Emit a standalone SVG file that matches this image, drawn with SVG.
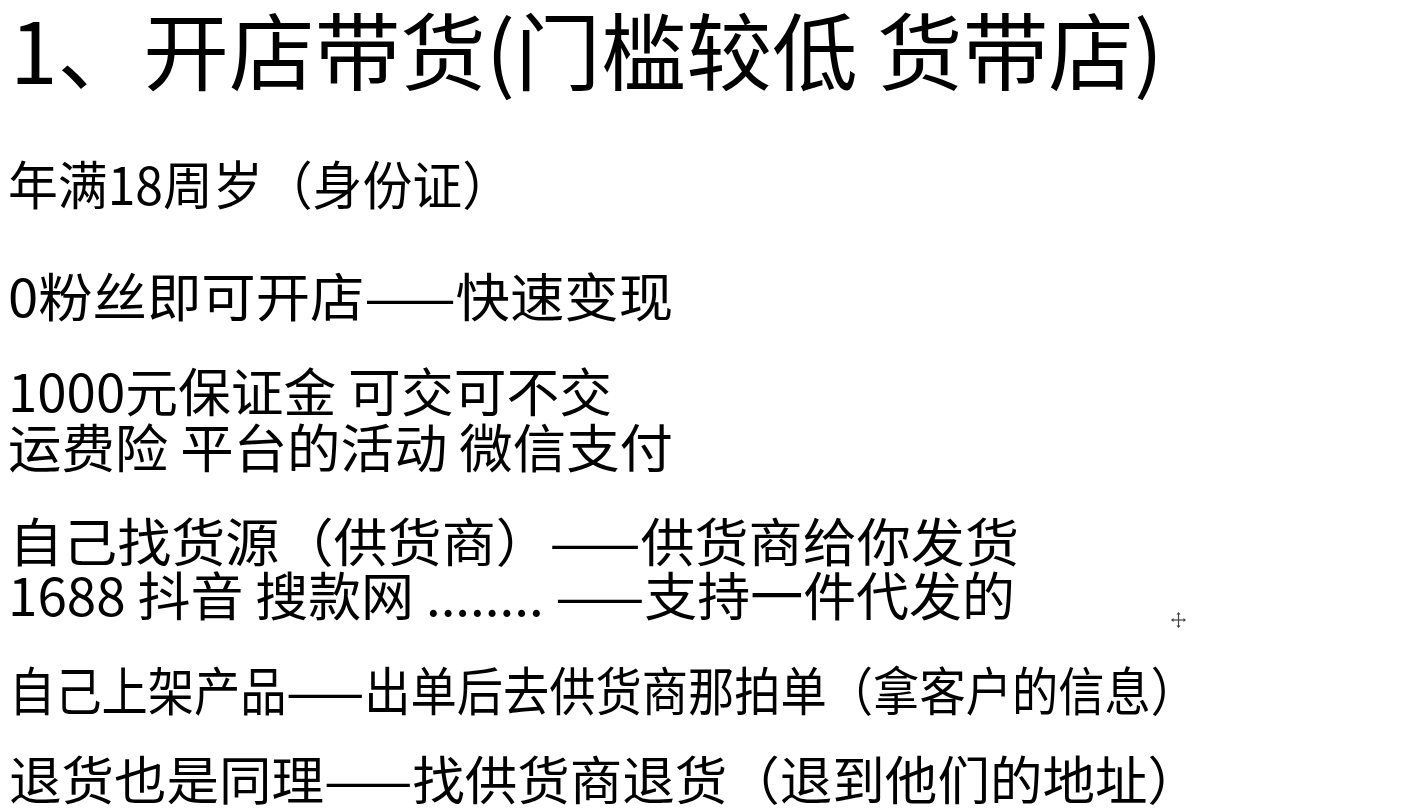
<svg xmlns="http://www.w3.org/2000/svg" width="1415" height="809" viewBox="0 0 1415 809">
<style>
text{font-family:"Noto Sans CJK SC","Noto Sans",sans-serif;fill:#000;}
.t{font-size:84px;}
.b{font-size:52px;}
</style>
<rect width="1415" height="809" fill="#fff"/>
<g id="title"><text class="t" x="10" y="84" textLength="1153" lengthAdjust="spacingAndGlyphs">1、开店带货(门槛较低 货带店)</text></g>
<g id="body">
<text class="b" x="8" y="205" textLength="504" lengthAdjust="spacingAndGlyphs">年满18周岁（身份证）</text>
<text class="b" x="8" y="317" textLength="665" lengthAdjust="spacingAndGlyphs">0粉丝即可开店——快速变现</text>
<text class="b" x="8" y="412" textLength="604" lengthAdjust="spacingAndGlyphs">1000元保证金 可交可不交</text>
<text class="b" x="8" y="468" textLength="665" lengthAdjust="spacingAndGlyphs">运费险 平台的活动 微信支付</text>
<text class="b" x="9" y="562" textLength="1010" lengthAdjust="spacingAndGlyphs">自己找货源（供货商）——供货商给你发货</text>
<text class="b" x="8" y="616" textLength="1007" lengthAdjust="spacingAndGlyphs">1688 抖音 搜款网 ........ ——支持一件代发的</text>
<text class="b" x="9" y="711" textLength="1188" lengthAdjust="spacingAndGlyphs">自己上架产品——出单后去供货商那拍单（拿客户的信息）</text>
<text class="b" x="9" y="800" textLength="1191" lengthAdjust="spacingAndGlyphs">退货也是同理——找供货商退货（退到他们的地址）</text>
</g>
<g id="cursor" fill="#444">
<rect x="1172" y="619.4" width="13" height="1.2"/>
<rect x="1177.9" y="613" width="1.2" height="14"/>
<path d="M1171,620 l2.5,-2 v4 z M1186,620 l-2.5,-2 v4 z M1178.5,612 l-2,2.5 h4 z M1178.5,628 l-2,-2.5 h4 z"/>
</g>
</svg>
